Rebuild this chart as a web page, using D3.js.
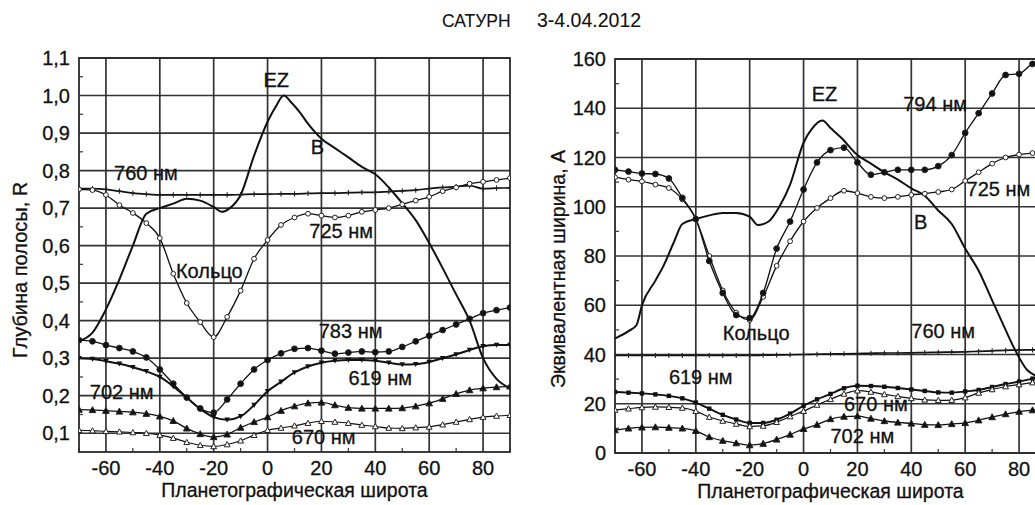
<!DOCTYPE html>
<html lang="ru">
<head>
<meta charset="utf-8">
<script src="https://d3js.org/d3.v7.min.js"></script>
<style>
  body { margin: 0; background: #fff; }
  text { font-family: "Liberation Sans", Arial, sans-serif; fill: #111; stroke: #111; stroke-width: 0.3px; }
</style>
</head>
<body>
<script>
// latitude grid shared by the marked series (every 5 deg)
var lat = [-70,-65,-60,-55,-50,-45,-40,-35,-30,-25,-20,-15,-10,-5,0,5,10,15,20,25,30,35,40,45,50,55,60,65,70,75,80,85,90];

// ---- left panel: band depth R ----
var latB_R = [-70,-65,-60,-55,-50,-45,-40,-35,-30,-25,-20,-17,-14,-10,-5,0,3,6,9,12,15,20,25,30,35,40,45,50,55,60,65,70,75,80,85,90];
var B_R    = [.345,.368,.43,.51,.60,.685,.70,.712,.725,.72,.703,.69,.70,.735,.84,.93,.97,1.0,.98,.955,.925,.885,.86,.835,.81,.79,.755,.713,.668,.607,.54,.47,.40,.30,.245,.22];
var R760 = [.752,.752,.750,.745,.740,.737,.735,.735,.735,.735,.735,.735,.736,.737,.737,.738,.738,.739,.740,.740,.741,.742,.742,.744,.746,.748,.752,.755,.757,.760,.752,.753,.754];
var R725 = [.750,.748,.735,.708,.687,.66,.62,.525,.447,.396,.356,.41,.48,.565,.615,.655,.675,.685,.68,.675,.68,.69,.695,.70,.71,.72,.73,.745,.755,.765,.77,.775,.78];
var R783 = [.348,.345,.335,.327,.318,.302,.27,.232,.195,.166,.155,.19,.232,.27,.295,.313,.325,.327,.32,.312,.315,.318,.316,.318,.33,.345,.36,.375,.39,.405,.42,.428,.435];
var R619 = [.30,.298,.292,.285,.276,.265,.25,.225,.195,.165,.143,.136,.145,.175,.212,.237,.262,.278,.288,.293,.295,.295,.293,.288,.283,.284,.29,.30,.31,.322,.332,.335,.335];
var R702 = [.163,.162,.16,.158,.156,.152,.145,.133,.113,.098,.09,.097,.115,.13,.143,.16,.172,.18,.182,.175,.168,.166,.166,.166,.167,.172,.18,.192,.205,.215,.22,.223,.225];
var R670 = [.108,.107,.105,.104,.102,.10,.095,.087,.076,.068,.065,.07,.08,.095,.108,.114,.12,.127,.132,.13,.127,.122,.118,.114,.113,.115,.117,.123,.13,.137,.143,.146,.148];

// ---- right panel: equivalent width A ----
var latB_A = [-70,-65,-62,-60,-55,-52,-48,-45,-40,-35,-30,-25,-20,-17,-13,-9,-5,0,3,7,10,14,20,25,30,35,40,45,50,55,60,65,70,75,78,83,86,90];
var B_A    = [46.5,49.5,52,60,70,76,86,93,95,96.5,97.5,97.5,96,92.6,94,100,109,126,131.5,135,132,128,121,117.5,114,111,107.5,104.5,98.5,93,83,74,62,50,43,33.7,31.5,30];
var A794 = [115,114.3,113.5,113.3,111.5,103.6,95,78,65,56,54.8,65,83,94,107,118,123,124,118,113,114,115,115,115,116.5,121,130,138,146,153.5,154,158,159];
var A725 = [112,111,110.3,109,107.6,103,95,80,66,57,54,63.4,76,86,94,99.5,103.5,106.5,105.5,104,103.5,104,104.8,105.3,106,107,110.5,114,117.5,120,121.2,121.8,122];
var A760 = [39.6,39.6,39.6,39.6,39.6,39.6,39.6,39.6,39.6,39.6,39.6,39.7,39.8,39.9,40,40.1,40.2,40.3,40.4,40.5,40.6,40.6,40.7,40.8,40.9,41,41.1,41.3,41.5,41.7,41.8,41.9,42];
var A619 = [24.8,24.5,24.2,23.8,23.2,22.2,20.5,18,15.5,13.6,12.2,12.2,13.5,16,19.2,21.8,24,26.3,27.3,27.2,26.9,26.4,25.8,25.2,24.6,24.5,25,25.6,26.8,28,29,30.2,30.8];
var A670 = [17.5,18,18.5,18.7,18.6,18.3,17,14.6,13,11.8,10.8,11,12.5,14.8,17,19.5,21.8,24,25.3,24.8,23.8,23,22.2,21.6,21.4,21.5,22.5,24.4,25.8,27,27.8,28.6,29];
var A702 = [9.3,10,10.4,10.5,10.3,10,9,6.5,5,4,3.2,3.8,5.5,7.5,9.8,11.5,13.8,14.8,15,14,13,12.4,12,11.5,11.4,11.8,12.2,13.3,14.6,15.8,16.8,17.4,17.8];

var xTicks = [-60,-40,-20,0,20,40,60,80];
var yTicksR = [0.1,0.2,0.3,0.4,0.5,0.6,0.7,0.8,0.9,1.0,1.1];
var yTicksA = [0,20,40,60,80,100,120,140,160];

var W = 1035, H = 505;
var svg = d3.select("body").append("svg").attr("width", W).attr("height", H);

var title = svg.append("text").attr("y", 27).style("font-size", "17.5px").style("stroke-width", "0.1px");
title.append("tspan").attr("x", 442).text("САТУРН");
title.append("tspan").attr("x", 537).style("font-size", "19.5px").text("3-4.04.2012");

function marker(g, type, x, y) {
  if (type == "fcirc" || type == "ocirc") {
    g.append("circle").attr("cx", x).attr("cy", y).attr("r", type == "fcirc" ? 2.9 : 2.4)
      .attr("fill", type == "fcirc" ? "#111" : "#fff").attr("stroke", "#222").attr("stroke-width", 1);
  } else if (type == "ftri" || type == "otri") {
    var s = type == "ftri" ? 3.3 : 2.9;
    g.append("path").attr("d", "M" + x + "," + (y - s) + "L" + (x + s) + "," + (y + s * 0.8) + "L" + (x - s) + "," + (y + s * 0.8) + "Z")
      .attr("fill", type == "ftri" ? "#111" : "#fff").attr("stroke", "#222").attr("stroke-width", 1);
  } else if (type == "dtri") {
    var s = 2.8;
    g.append("path").attr("d", "M" + x + "," + (y + s) + "L" + (x + s) + "," + (y - s * 0.8) + "L" + (x - s) + "," + (y - s * 0.8) + "Z")
      .attr("fill", "#111");
  } else if (type == "plus") {
    g.append("path").attr("d", "M" + x + "," + (y - 2.6) + "V" + (y + 2.6) + "M" + (x - 2) + "," + y + "H" + (x + 2))
      .attr("stroke", "#222").attr("stroke-width", 1.1);
  } else if (type == "sq") {
    g.append("rect").attr("x", x - 2.2).attr("y", y - 2.2).attr("width", 4.4).attr("height", 4.4).attr("fill", "#111");
  }
}

function drawPanel(cfg) {
  var x = d3.scaleLinear().domain([-70, 90]).range([cfg.x0, cfg.x1]);
  var y = d3.scaleLinear().domain(cfg.ydom).range([cfg.y1, cfg.y0]);
  var g = svg.append("g");
  var clipId = "clip" + cfg.id;
  g.append("clipPath").attr("id", clipId).append("rect")
    .attr("x", cfg.x0).attr("y", cfg.y0).attr("width", cfg.x1 - cfg.x0).attr("height", cfg.y1 - cfg.y0);

  // grid
  g.selectAll(".gx").data(xTicks).enter().append("line")
    .attr("x1", function(d) { return x(d); }).attr("x2", function(d) { return x(d); })
    .attr("y1", cfg.y0).attr("y2", cfg.y1).attr("stroke", "#333").attr("stroke-width", 1.7);
  g.selectAll(".gy").data(cfg.yTicks).enter().append("line")
    .attr("x1", cfg.x0).attr("x2", cfg.x1)
    .attr("y1", function(d) { return y(d); }).attr("y2", function(d) { return y(d); })
    .attr("stroke", "#333").attr("stroke-width", 1.7);
  // minor ticks
  var minorX = d3.range(-70, 91, 10).filter(function(d) { return xTicks.indexOf(d) < 0; });
  g.selectAll(".mx").data(minorX).enter().append("line")
    .attr("x1", function(d) { return x(d); }).attr("x2", function(d) { return x(d); })
    .attr("y1", cfg.y1).attr("y2", cfg.y1 - 4).attr("stroke", "#444").attr("stroke-width", 1.3);
  var minorY = cfg.yTicks.slice(0, -1).map(function(d, i) { return (d + cfg.yTicks[i + 1]) / 2; });
  g.selectAll(".my").data(minorY).enter().append("line")
    .attr("x1", cfg.x0).attr("x2", cfg.x0 + 4)
    .attr("y1", function(d) { return y(d); }).attr("y2", function(d) { return y(d); })
    .attr("stroke", "#444").attr("stroke-width", 1.3);
  g.append("rect").attr("x", cfg.x0).attr("y", cfg.y0).attr("width", cfg.x1 - cfg.x0).attr("height", cfg.y1 - cfg.y0)
    .attr("fill", "none").attr("stroke", "#2a2a2a").attr("stroke-width", 1.8);

  // tick labels
  g.selectAll(".tx").data(xTicks).enter().append("text")
    .attr("x", function(d) { return x(d); }).attr("y", cfg.y1 + 23)
    .attr("text-anchor", "middle").style("font-size", "20px")
    .text(function(d) { return d; });
  g.selectAll(".ty").data(cfg.yTicks).enter().append("text")
    .attr("x", cfg.x0 - 9).attr("y", function(d) { return y(d) + 7; })
    .attr("text-anchor", "end").style("font-size", "20px")
    .text(cfg.fmt);

  // axis titles
  g.append("text").attr("x", (cfg.x0 + cfg.x1) / 2).attr("y", cfg.y1 + 45)
    .attr("text-anchor", "middle").style("font-size", "19.5px").text("Планетографическая широта");
  g.append("text").attr("transform", "translate(" + cfg.ytx + "," + cfg.yty + ") rotate(-90)")
    .attr("text-anchor", "middle").style("font-size", cfg.ytsize).text(cfg.ytitle);

  // series
  var plot = g.append("g").attr("clip-path", "url(#" + clipId + ")");
  var line = d3.line().x(function(d) { return x(d[0]); }).y(function(d) { return y(d[1]); })
    .curve(d3.curveMonotoneX);
  cfg.series.forEach(function(s) {
    var pts = d3.zip(s.lat, s.vals);
    plot.append("path").attr("d", line(pts)).attr("fill", "none")
      .attr("stroke", "#111").attr("stroke-width", s.w || 1.4);
    if (s.mark) {
      var mg = plot.append("g");
      pts.forEach(function(p) { marker(mg, s.mark, x(p[0]), y(p[1])); });
    }
  });

  // in-plot labels
  cfg.labels.forEach(function(l) {
    g.append("text").attr("x", x(l[1])).attr("y", y(l[2])).style("font-size", "20px").text(l[0]);
  });
}

drawPanel({
  id: "R", x0: 79, x1: 510, y0: 58, y1: 452, ydom: [0.05, 1.1], yTicks: yTicksR,
  fmt: function(d) { return d3.format(".1f")(d).replace(".", ","); },
  ytitle: "Глубина полосы, R", ytx: 27, yty: 270, ytsize: "20px",
  series: [
    {lat: latB_R, vals: B_R, w: 2},
    {lat: lat, vals: R760, mark: "plus", w: 1.7},
    {lat: lat, vals: R725, mark: "ocirc", w: 1.3},
    {lat: lat, vals: R783, mark: "fcirc", w: 1.3},
    {lat: lat, vals: R619, mark: "dtri", w: 2},
    {lat: lat, vals: R702, mark: "ftri", w: 1.3},
    {lat: lat, vals: R670, mark: "otri", w: 1.2}
  ],
  labels: [
    ["760 нм", -57, 0.775], ["EZ", -1.5, 1.023], ["B", 16, 0.845], ["725 нм", 15.5, 0.62],
    ["Кольцо", -34, 0.515], ["783 нм", 19, 0.355], ["619 нм", 30, 0.228],
    ["702 нм", -66, 0.19], ["670 нм", 9, 0.072]
  ]
});

drawPanel({
  id: "A", x0: 615, x1: 1046, y0: 59, y1: 453, ydom: [0, 160], yTicks: yTicksA,
  fmt: function(d) { return d; },
  ytitle: "Эквивалентная ширина, А", ytx: 565, yty: 269, ytsize: "19.5px",
  series: [
    {lat: latB_A, vals: B_A, w: 2},
    {lat: lat, vals: A760, mark: "plus", w: 1.7},
    {lat: lat, vals: A725, mark: "ocirc", w: 1.3},
    {lat: lat, vals: A794, mark: "fcirc", w: 1.3},
    {lat: lat, vals: A619, mark: "sq", w: 1.9},
    {lat: lat, vals: A670, mark: "otri", w: 1.2},
    {lat: lat, vals: A702, mark: "ftri", w: 1.3}
  ],
  labels: [
    ["EZ", 3, 143], ["794 нм", 37, 139], ["725 нм", 60.5, 104.5], ["B", 41, 91],
    ["Кольцо", -30, 46], ["760 нм", 40, 46.5], ["619 нм", -50, 28],
    ["670 нм", 15, 17], ["702 нм", 10, 4]
  ]
});
</script>
</body>
</html>
